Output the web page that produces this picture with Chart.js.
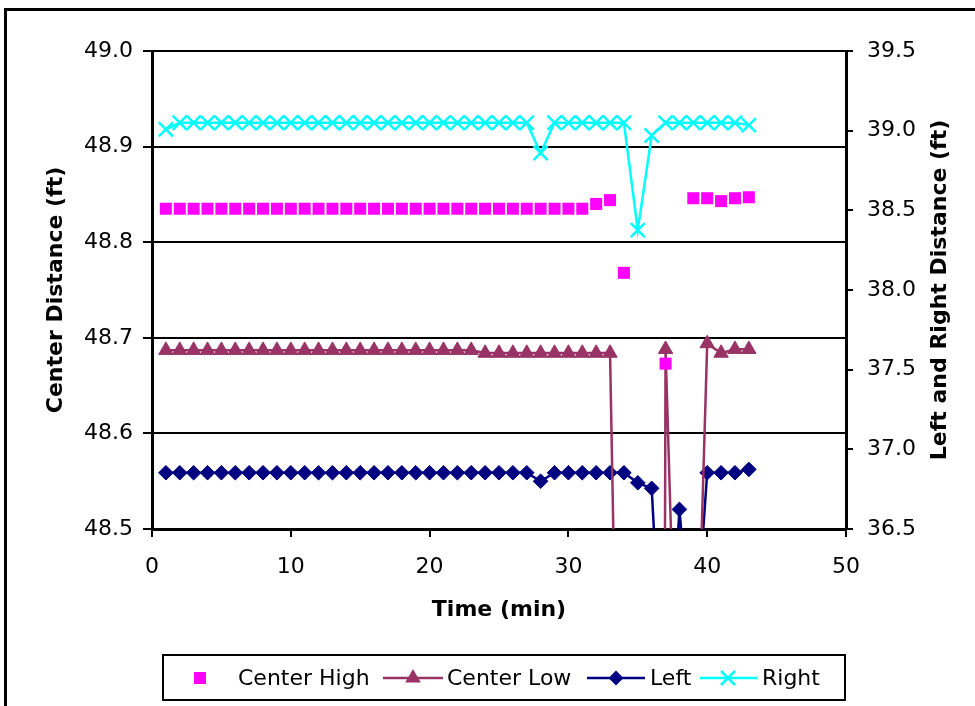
<!DOCTYPE html>
<html>
<head>
<meta charset="utf-8">
<script src="https://cdn.jsdelivr.net/npm/chart.js@4/dist/chart.umd.min.js"></script>
<style>
html,body{margin:0;padding:0;background:#fff;}
#wrap{width:975px;height:706px;position:relative;}
</style>
</head>
<body>
<div id="wrap"><canvas id="c" width="975" height="706"></canvas></div>
<script>
// ---- data ----
const times = [1,2,3,4,5,6,7,8,9,10,11,12,13,14,15,16,17,18,19,20,21,22,23,24,25,26,27,28,29,30,31,32,33,34,35,36,37,38,39,40,41,42,43];

const centerHigh = [48.835,48.835,48.835,48.835,48.835,48.835,48.835,48.835,48.835,48.835,
  48.835,48.835,48.835,48.835,48.835,48.835,48.835,48.835,48.835,48.835,
  48.835,48.835,48.835,48.835,48.835,48.835,48.835,48.835,48.835,48.835,
  48.835,48.840,48.844,48.768,null,null,48.673,null,48.846,48.846,
  48.843,48.846,48.847];

const centerLow = [48.687,48.687,48.687,48.687,48.687,48.687,48.687,48.687,48.687,48.687,
  48.687,48.687,48.687,48.687,48.687,48.687,48.687,48.687,48.687,48.687,
  48.687,48.687,48.687,48.684,48.684,48.684,48.684,48.684,48.684,48.684,
  48.684,48.684,48.684,47.9,47.0,44.0,48.688,48.2,48.2,48.694,
  48.684,48.688,48.688];

const leftDist = [36.853,36.853,36.853,36.853,36.853,36.853,36.853,36.853,36.853,36.853,
  36.853,36.853,36.853,36.853,36.853,36.853,36.853,36.853,36.853,36.853,
  36.853,36.853,36.853,36.853,36.853,36.853,36.853,36.80,36.853,36.853,
  36.853,36.853,36.853,36.853,36.79,36.755,35.14,36.623,35.60,36.853,
  36.853,36.853,36.874];

const rightDist = [39.008,39.05,39.05,39.05,39.05,39.05,39.05,39.05,39.05,39.05,
  39.05,39.05,39.05,39.05,39.05,39.05,39.05,39.05,39.05,39.05,
  39.05,39.05,39.05,39.05,39.05,39.05,39.05,38.86,39.05,39.05,
  39.05,39.05,39.05,39.05,38.376,38.97,39.05,39.05,39.05,39.05,
  39.05,39.05,39.035];

const seriesNames = ['Center High','Center Low','Left','Right'];
const xTickValues = [0,10,20,30,40,50];
const leftTickValues = [48.5,48.6,48.7,48.8,48.9,49.0];
const rightTickValues = [36.5,37.0,37.5,38.0,38.5,39.0,39.5];
const xTitle = 'Time (min)';
const leftTitle = 'Center Distance (ft)';
const rightTitle = 'Left and Right Distance (ft)';

// ---- styling ----
const FONT = 'DejaVu Sans';
const COLORS = ['#FF00FF','#993366','#000080','#00FFFF'];

function pts(arr){ return times.map((t,i)=>({x:t,y:arr[i]})); }

const datasets = [
  {label:seriesNames[0], data:pts(centerHigh), yAxisID:'yL', showLine:false,
   pointStyle:'rect', pointRadius:8.5, pointBackgroundColor:COLORS[0], pointBorderColor:COLORS[0], pointBorderWidth:0,
   borderColor:COLORS[0], backgroundColor:COLORS[0]},
  {label:seriesNames[1], data:pts(centerLow), yAxisID:'yL', showLine:true,
   borderColor:COLORS[1], borderWidth:2.5, pointStyle:'triangle', pointRadius:8.3,
   pointBackgroundColor:COLORS[1], pointBorderColor:COLORS[1], pointBorderWidth:1, spanGaps:true},
  {label:seriesNames[2], data:pts(leftDist), yAxisID:'yR', showLine:true,
   borderColor:COLORS[2], borderWidth:2.5, pointStyle:'rectRot', pointRadius:7.3,
   pointBackgroundColor:COLORS[2], pointBorderColor:COLORS[2], pointBorderWidth:1, spanGaps:true},
  {label:seriesNames[3], data:pts(rightDist), yAxisID:'yR', showLine:true,
   borderColor:COLORS[3], borderWidth:2.5, pointStyle:'crossRot', pointRadius:10,
   pointBackgroundColor:COLORS[3], pointBorderColor:COLORS[3], pointBorderWidth:2.5, spanGaps:true}
];

const frameLegendPlugin = {
  id:'frameLegend',
  beforeDraw(chart){
    const ctx = chart.ctx;
    ctx.save();
    ctx.fillStyle = '#fff';
    ctx.fillRect(0,0,chart.width,chart.height);
    ctx.strokeStyle = '#000';
    ctx.lineWidth = 3;
    ctx.strokeRect(5.5, 9.5, 1100, 1100);
    ctx.restore();
  },
  afterDraw(chart){
    const ctx = chart.ctx;
    ctx.save();
    // right axis title, reading bottom-to-top
    const a = chart.chartArea;
    ctx.translate(940, (a.top + a.bottom)/2);
    ctx.rotate(-Math.PI/2);
    ctx.fillStyle = '#000';
    ctx.font = 'bold 22px "' + FONT + '"';
    ctx.textAlign = 'center';
    ctx.textBaseline = 'middle';
    ctx.fillText(rightTitle, 0, 0);
    ctx.restore();

    ctx.save();
    // legend box
    ctx.fillStyle = '#fff';
    ctx.fillRect(163,655,682,45);
    ctx.strokeStyle = '#000';
    ctx.lineWidth = 2;
    ctx.strokeRect(163,655,682,45);
    const cy = 678;
    const items = [
      {mark:'rect', mx:200, line:null, tx:238},
      {mark:'triangle', mx:413, line:[383,443], tx:447},
      {mark:'diamond', mx:616, line:[587,645], tx:650},
      {mark:'cross', mx:728, line:[700,757], tx:762}
    ];
    items.forEach((it,i)=>{
      const col = COLORS[i];
      if(it.line){
        ctx.strokeStyle = col; ctx.lineWidth = 2.5;
        ctx.beginPath(); ctx.moveTo(it.line[0],cy); ctx.lineTo(it.line[1],cy); ctx.stroke();
      }
      ctx.fillStyle = col; ctx.strokeStyle = col;
      const x = it.mx;
      ctx.beginPath();
      if(it.mark==='rect'){ ctx.fillRect(x-6,cy-6,12,12); }
      else if(it.mark==='triangle'){ const r=9; ctx.moveTo(x,cy-r); ctx.lineTo(x+0.866*r,cy+0.5*r); ctx.lineTo(x-0.866*r,cy+0.5*r); ctx.closePath(); ctx.fill(); }
      else if(it.mark==='diamond'){ const r=7.5; ctx.moveTo(x-r,cy); ctx.lineTo(x,cy-r); ctx.lineTo(x+r,cy); ctx.lineTo(x,cy+r); ctx.closePath(); ctx.fill(); }
      else { const d=7; ctx.lineWidth=2.5; ctx.moveTo(x-d,cy-d); ctx.lineTo(x+d,cy+d); ctx.moveTo(x+d,cy-d); ctx.lineTo(x-d,cy+d); ctx.stroke(); }
      ctx.fillStyle = '#000';
      ctx.font = '22px "' + FONT + '"';
      ctx.textBaseline = 'middle';
      ctx.textAlign = 'left';
      ctx.fillText(seriesNames[i], it.tx, cy+1);
    });
    ctx.restore();
  }
};

new Chart(document.getElementById('c'), {
  type:'line',
  data:{datasets},
  plugins:[frameLegendPlugin],
  options:{
    responsive:false,
    devicePixelRatio:1,
    animation:false,
    layout:{padding:{top:51,left:0,right:0,bottom:0}},
    plugins:{legend:{display:false}, tooltip:{enabled:false}, title:{display:false}},
    scales:{
      x:{
        type:'linear', position:'bottom', min:0, max:50,
        afterBuildTicks:s=>{ s.ticks = xTickValues.map(v=>({value:v})); },
        afterFit:s=>{ s.height = 177; },
        ticks:{color:'#000', font:{family:FONT, size:22}, padding:17, maxRotation:0, callback:v=>String(v)},
        grid:{drawOnChartArea:false, drawTicks:true, tickLength:8, color:'#000', lineWidth:2},
        border:{display:true, color:'#000', width:3},
        title:{display:true, text:xTitle, color:'#000', font:{family:FONT, size:22, weight:'bold'}, padding:{top:0,bottom:83}}
      },
      yL:{
        type:'linear', position:'left', min:48.5, max:49.0,
        afterBuildTicks:s=>{ s.ticks = leftTickValues.map(v=>({value:v})); },
        afterFit:s=>{ s.width = 152; },
        ticks:{color:'#000', font:{family:FONT, size:22}, padding:10, callback:v=>Number(v).toFixed(1)},
        grid:{drawOnChartArea:true, drawTicks:true, tickLength:9, color:'#000', lineWidth:2},
        border:{display:true, color:'#000', width:3},
        title:{display:true, text:leftTitle, color:'#000', font:{family:FONT, size:22, weight:'bold'}, padding:{top:43,bottom:0}}
      },
      yR:{
        type:'linear', position:'right', min:36.5, max:39.5,
        afterBuildTicks:s=>{ s.ticks = rightTickValues.map(v=>({value:v})); },
        afterFit:s=>{ s.width = 129; },
        ticks:{color:'#000', font:{family:FONT, size:22}, padding:14, callback:v=>Number(v).toFixed(1)},
        grid:{drawOnChartArea:false, drawTicks:true, tickLength:7, color:'#000', lineWidth:2},
        border:{display:true, color:'#000', width:3},
        title:{display:false, text:rightTitle}
      }
    }
  }
});
</script>
</body>
</html>
